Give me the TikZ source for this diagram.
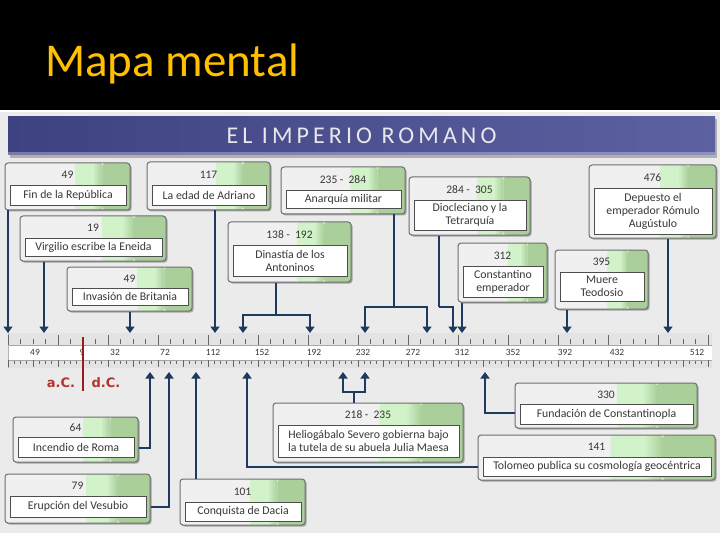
\documentclass[tikz,border=0pt]{standalone}
\usepackage{fontspec}
\setmainfont{Carlito}
\newfontfamily\djv{DejaVu Sans}
\newfontfamily\bannerfont[LetterSpace=17]{Carlito}
\usetikzlibrary{arrows.meta,shadows,calc}
\definecolor{bgc}{HTML}{EBEBEB}
\definecolor{boxgray}{HTML}{F0F0F0}
\definecolor{palegreen}{HTML}{D2F2CA}
\definecolor{boxgreen}{HTML}{ABCF9A}
\definecolor{boxline}{HTML}{6E6E6E}
\definecolor{innerline}{HTML}{4E4E4E}
\definecolor{navy}{HTML}{1E3A5F}
\definecolor{banL}{HTML}{3E4280}
\definecolor{banR}{HTML}{5E61A1}
\definecolor{gold}{HTML}{FFC000}
\definecolor{darkred}{HTML}{9B1B1B}
\definecolor{acred}{HTML}{B0352C}
\definecolor{txt}{HTML}{383838}
\tikzset{
  outerbox/.style={draw=boxline, line width=1pt, rounded corners=3pt, fill=boxgray,
    drop shadow={shadow xshift=1.5pt, shadow yshift=-1.5pt, opacity=0.3, fill=black},
    path picture={
      \coordinate (ppsw) at (path picture bounding box.south west);
      \coordinate (ppse) at (path picture bounding box.south east);
      \coordinate (ppnw) at (path picture bounding box.north west);
      \coordinate (ppne) at (path picture bounding box.north east);
      \fill[palegreen] ($(ppsw)!0.56!(ppse)$) rectangle ($(ppnw)!0.72!(ppne)$);
      \fill[left color=palegreen, right color=boxgreen] ($(ppsw)!0.70!(ppse)$) rectangle ($(ppnw)!0.78!(ppne)$);
      \fill[boxgreen] ($(ppsw)!0.78!(ppse)$) rectangle (ppne);
    }},
  innerbox/.style={draw=innerline, line width=0.9pt, fill=white, align=center, inner sep=1pt,
    text=txt, font=\fontsize{11.8}{13}\selectfont},
  datetxt/.style={text=txt, inner sep=0pt, font=\fontsize{11.5}{12}\selectfont},
  arr/.style={draw=navy, line width=2.4pt, -{Triangle[width=9pt,length=6.5pt]}},
  ln/.style={draw=navy, line width=2.4pt},
  numtxt/.style={text=txt, inner sep=0pt, font=\fontsize{9.5}{10}\selectfont}
}
% name, x1, y1, x2, y2, innerTop, innerBottom, date, text
\newcommand\evbox[9]{%
  \node[outerbox, minimum width={#4-#2}, minimum height={#5-#3}, inner sep=0pt] (#1) at ({(#2+#4)/2},{(#3+#5)/2}) {};
  \node[datetxt] (#1d) at ({(#2+#4)/2},{(#3+#6)/2+1}) {#8};
  \node[innerbox, minimum width={#4-#2-9}, minimum height={#7-#6}] (#1i) at ({(#2+#4)/2+0.5},{(#6+#7)/2}) {#9};
}
\begin{document}
\begin{tikzpicture}[x=1pt,y=-1pt]
\useasboundingbox (0,0) rectangle (720,540);
\fill[black] (0,0) rectangle (720,110);
\fill[white] (0,110) rectangle (720,112);
\fill[bgc] (0,112) rectangle (720,533);
\fill[white] (0,533) rectangle (720,540);
\node[anchor=base west, inner sep=0pt, text=gold, font=\fontsize{47}{50}\selectfont] (title) at (45,77) {Mapa mental};

% banner
\fill[black, opacity=0.25] (10,119) rectangle (717,158);
\node[minimum width=707pt, minimum height=38pt, inner sep=0pt, left color=banL, right color=banR,
  text={rgb,255:red,232;green,232;blue,236}, font=\bannerfont\fontsize{24}{26}\selectfont] (banner) at (361.5,136) {EL IMPERIO ROMANO};
\fill[white, opacity=0.3] (8,152) rectangle (715,155);

% ruler
\fill[gray!22] (8,333) rectangle (712,368);
\fill[white] (8,345) rectangle (712,360);
\draw[gray!70, line width=0.6pt] (8,345) -- (712,345) (8,360) -- (712,360);
\draw[gray!60, line width=0.8pt] (8,333) -- (8,368);
\foreach \i in {0,...,56} {
  \pgfmathsetmacro\xx{8+12.5*\i}
  \pgfmathtruncatemacro\mm{mod(\i,4)}
  \ifnum\mm=0 \draw[gray!80!black, line width=0.7pt] (\xx,335) -- (\xx,345);
  \else \draw[gray!80!black, line width=0.7pt] (\xx,339) -- (\xx,344); \fi
}
\foreach \i in {0,...,112} {
  \pgfmathsetmacro\xx{8+6.25*\i}
  \pgfmathtruncatemacro\mm{mod(\i,4)}
  \ifnum\mm=0 \draw[gray!80!black, line width=0.7pt] (\xx,360) -- (\xx,367);
  \else \draw[gray!80!black, line width=0.6pt] (\xx,361) -- (\xx,364); \fi
}
\foreach \n/\xx in {49/35, 9/82, 32/115, 72/165, 112/213, 152/262, 192/314, 232/363, 272/413, 312/462, 352/513, 392/565, 432/617, 512/697}
  \node[numtxt] (n\n) at (\xx,352.5) {\n};
\draw[darkred, line width=2pt] (83,337) -- (83,391);
\node[text=acred, inner sep=0pt, font=\djv\bfseries\fontsize{13}{14}\selectfont] (ac) at (61,383) {a.C.};
\node[text=acred, inner sep=0pt, font=\djv\bfseries\fontsize{13}{14}\selectfont] (dc) at (106,383) {d.C.};

% ruler targets
\foreach \xx in {8,44,130,215,243,310,365,427,453,462,567,668}
  \coordinate (r\xx) at (\xx,333);
\foreach \xx in {150,169,196,247,343,365,485}
  \coordinate (s\xx) at (\xx,372);

% top boxes
\evbox{b1}{5}{163}{130}{210}{185}{205}{49}{Fin de la República}
\evbox{b2}{147}{162}{270}{210}{185}{205}{117}{La edad de Adriano}
\evbox{b3}{20}{216}{166}{261}{238}{256}{19}{Virgilio escribe la Eneida}
\evbox{b4}{67}{267}{192}{311}{288}{305}{49}{Invasión de Britania}
\evbox{b5}{281}{167}{405}{214}{190}{208}{235 -\ \ 284}{Anarquía militar}
\evbox{b6}{228}{222}{351}{282}{245}{276}{138 -\ \ 192}{Dinastía de los\\Antoninos}
\evbox{b7}{409}{177}{530}{235}{200}{230}{284 -\ \ 305}{Diocleciano y la\\Tetrarquía}
\evbox{b8}{458}{243}{547}{302}{266}{297}{312}{Constantino\\emperador}
\evbox{b9}{555}{250}{648}{309}{272}{301}{395}{Muere\\Teodosio}
\evbox{b10}{589}{165}{716}{238}{188}{234}{476}{Depuesto el\\emperador Rómulo\\Augústulo}

% bottom boxes
\evbox{b11}{13}{417}{138}{462}{437}{457}{64}{Incendio de Roma}
\evbox{b12}{5}{474}{150}{523}{496}{517}{79}{Erupción del Vesubio}
\evbox{b13}{180}{479}{305}{525}{502}{521}{101}{Conquista de Dacia}
\evbox{b14}{273}{403}{463}{462}{425}{457}{218 -\ \ 235}{Heliogábalo Severo gobierna bajo\\la tutela de su abuela Julia Maesa}
\evbox{b15}{515}{383}{697}{428}{404}{424}{330}{Fundación de Constantinopla}
\evbox{b16}{478}{435}{715}{480}{457}{476}{141}{Tolomeo publica su cosmología geocéntrica}

% top connectors
\draw[arr] (b1.south -| r8) -- (r8);
\draw[arr] (b3.south -| r44) -- (r44);
\draw[arr] (b4.south -| r130) -- (r130);
\draw[arr] (b2.south -| r215) -- (r215);
\coordinate (j6) at (276,315);
\draw[ln] (b6.south -| j6) -- (j6);
\draw[arr] (j6) -| (r243);
\draw[arr] (j6) -| (r310);
\coordinate (j5) at (394,307);
\draw[ln] (b5.south -| j5) -- (j5);
\draw[arr] (j5) -| (r365);
\draw[arr] (j5) -| (r427);
\coordinate (j7) at (439,307);
\draw[ln] (b7.south -| j7) -- (j7);
\draw[arr] (j7) -| (r453);
\draw[arr] (b8.south -| r462) -- (r462);
\draw[arr] (b9.south -| r567) -- (r567);
\draw[arr] (b10.south -| r668) -- (r668);

% bottom connectors
\draw[arr] ($(b11.east)+(0,8.5)$) -| (s150);
\draw[arr] ($(b12.east)+(0,8.5)$) -| (s169);
\draw[arr] (b13.north -| s196) -- (s196);
\draw[arr] ($(b16.west)+(0,9.5)$) -| (s247);
\coordinate (j14) at (354,392);
\draw[ln] (b14.north -| j14) -- (j14);
\draw[arr] (j14) -| (s343);
\draw[arr] (j14) -| (s365);
\draw[arr] ($(b15.west)+(0,7.5)$) -| (s485);
\end{tikzpicture}
\end{document}
